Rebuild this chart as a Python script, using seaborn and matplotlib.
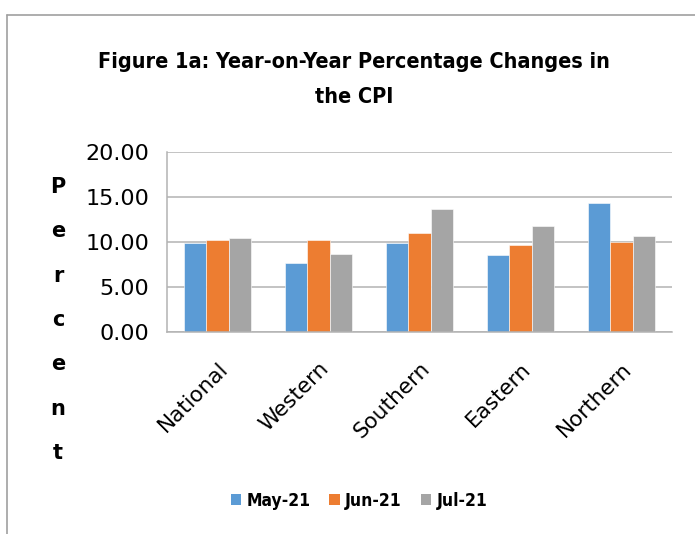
import pandas as pd
import numpy as np
import matplotlib
matplotlib.use("Agg")
import matplotlib.pyplot as plt
from matplotlib.lines import Line2D
from matplotlib.patches import Patch
import seaborn as sns

# data ---------------------------------------------------------------
regions = ["National", "Western", "Southern", "Eastern", "Northern"]
months = ["May-21", "Jun-21", "Jul-21"]
may_21 = [9.89, 7.70, 9.89, 8.51, 14.31]
jun_21 = [10.19, 10.19, 10.97, 9.67, 9.96]
jul_21 = [10.48, 8.70, 13.64, 11.82, 10.63]
y_ticks = [0, 5, 10, 15, 20]

colors = ["#5B9BD5", "#ED7D31", "#A5A5A5"]
axis_grey = "#B3B3B3"

df = pd.DataFrame({"Region": regions * 3,
                   "Month": np.repeat(months, len(regions)),
                   "Value": may_21 + jun_21 + jul_21})

sns.set_style("white")
plt.rcParams['font.family'] = ['DejaVu Sans']
plt.rcParams['text.color'] = 'black'
plt.rcParams['xtick.color'] = 'black'
plt.rcParams['ytick.color'] = 'black'

fig = plt.figure(figsize=(6.95, 5.34), dpi=100)
ax = fig.add_axes([0.2403, 0.3783, 0.7266, 0.3371])

sns.barplot(data=df, x="Region", y="Value", hue="Month", order=regions,
            hue_order=months, palette=colors, saturation=1, width=0.66, gap=0,
            edgecolor="white", linewidth=0.4, ax=ax, legend=False)

ax.set_ylim(0, 20)
ax.set_xlim(-0.5, len(regions) - 0.5)
ax.set_yticks(y_ticks)
ax.set_yticklabels([f"{v:.2f}" for v in y_ticks], fontsize=16)
ax.yaxis.grid(True, color=axis_grey, linewidth=1.1)
ax.set_axisbelow(True)

ax.set_xticks(range(len(regions)))
ax.set_xticklabels(regions, rotation=45, ha="right", rotation_mode="anchor",
                   fontsize=15.5)
ax.set_xticks(np.arange(-0.5, len(regions)), minor=True)
ax.tick_params(axis="x", which="major", length=0, pad=19)
ax.tick_params(axis="x", which="minor", length=6, color=axis_grey, width=1.1)
ax.tick_params(axis="y", length=6, color=axis_grey, labelcolor="black", width=1.1, pad=7)
ax.set_xlabel("")
ax.set_ylabel("")

for s in ["top", "right"]:
    ax.spines[s].set_visible(False)
for s in ["left", "bottom"]:
    ax.spines[s].set_color(axis_grey)
    ax.spines[s].set_linewidth(1.1)

# vertical y label
fig.text(58 / 695, 1 - 320 / 534, "\n".join("Percent"), ha="center",
         va="center", fontsize=15, fontweight="bold", linespacing=2.53)

# title
title_font = dict(ha="center", va="center", fontsize=15.5, fontweight="bold",
                  fontstretch="condensed")
fig.text(354 / 695, 1 - 62 / 534, "Figure 1a: Year-on-Year Percentage Changes in",
         **title_font)
fig.text(354 / 695, 1 - 97 / 534, "the CPI", **title_font)

# legend
handles = [Patch(facecolor=c, edgecolor="none") for c in colors]
fig.legend(handles, months, loc="center", bbox_to_anchor=(359 / 695, 1 - 501 / 534),
           ncol=3, frameon=False,
           prop={"weight": "bold", "size": 12.5, "stretch": "condensed"},
           handlelength=0.6, handleheight=0.6, handletextpad=0.3, columnspacing=1.1)

# chart border (left and top)
fig.add_artist(Line2D([7 / 695, 7 / 695], [0, 1 - 15 / 534], color="#A0A0A0", lw=1.2))
fig.add_artist(Line2D([7 / 695, 1], [1 - 15 / 534, 1 - 15 / 534], color="#A0A0A0", lw=1.2))

fig.savefig("out.png", dpi=100)
